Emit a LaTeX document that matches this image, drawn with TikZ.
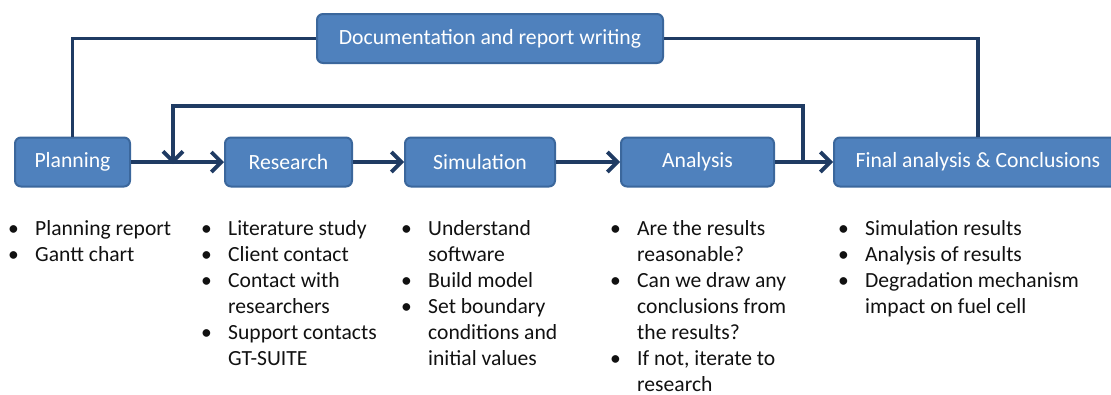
\documentclass[tikz,border=0pt]{standalone}
\usepackage{fontspec}
\setmainfont{Carlito}
\usetikzlibrary{arrows.meta}
\definecolor{boxfill}{HTML}{4F81BD}
\definecolor{boxedge}{HTML}{3B679C}
\definecolor{flow}{HTML}{1F3B63}
\definecolor{listtext}{HTML}{111111}
\begin{document}
\begin{tikzpicture}[x=1pt,y=-1pt,
  stage/.style={draw=boxedge, line width=2pt, fill=boxfill, rounded corners=6pt,
    minimum height=49pt, text=white, font=\fontsize{21.7}{26}\selectfont, inner sep=0pt},
  flowline/.style={draw=flow, line width=3.6pt},
  flowarrow/.style={flowline, -{Straight Barb[length=10pt,width=20pt,line width=3.8pt]}},
  notes/.style={anchor=base west, inner sep=0pt, text=listtext,
    font=\fontsize{21.6}{26}\selectfont}]
\useasboundingbox (0,0) rectangle (1111,394);
\clip (0,0) rectangle (1111,394);

% process stages
\node[stage, minimum width=115pt] (plan) at (72.5,162) {Planning};
\node[stage, minimum width=127pt] (res)  at (288.5,162) {Research};
\node[stage, minimum width=150pt] (sim)  at (480,162) {Simulation};
\node[stage, minimum width=153pt] (ana)  at (697.5,162) {Analysis};
\node[stage, minimum width=288pt] (fin)  at (978,162) {Final analysis \& Conclusions};
\node[stage, minimum width=346pt] (doc)  at (490,38.5) {Documentation and report writing};

% junctions of the iteration loop
\coordinate (loopin)  at (173,162);
\coordinate (loopout) at (803,162);

% documentation spans the whole project
\draw[flowline] (doc.west) -| (plan.north);
\draw[flowline] (doc.east) -| (fin.north);

% main flow
\draw[flowarrow] (plan.east) -- (res.west);
\draw[flowarrow] (res.east) -- (sim.west);
\draw[flowarrow] (sim.east) -- (ana.west);
\draw[flowarrow] (ana.east) -- (fin.west);

% iterate from analysis back to research
\draw[flowarrow] (loopout) -- (803,106) -| ([yshift=-2pt]loopin);

% task lists
\node[notes] (lplan) at (8,235) {\begin{tabular}[t]{@{}p{27pt}@{}l@{}}
\textbullet & Planning report\\
\textbullet & Gantt chart
\end{tabular}};
\node[notes] (lres) at (201,235) {\begin{tabular}[t]{@{}p{27pt}@{}l@{}}
\textbullet & Literature study\\
\textbullet & Client contact\\
\textbullet & Contact with\\
 & researchers\\
\textbullet & Support contacts\\
 & GT-SUITE
\end{tabular}};
\node[notes] (lsim) at (401,235) {\begin{tabular}[t]{@{}p{27pt}@{}l@{}}
\textbullet & Understand\\
 & software\\
\textbullet & Build model\\
\textbullet & Set boundary\\
 & conditions and\\
 & initial values
\end{tabular}};
\node[notes] (lana) at (610,235) {\begin{tabular}[t]{@{}p{27pt}@{}l@{}}
\textbullet & Are the results\\
 & reasonable?\\
\textbullet & Can we draw any\\
 & conclusions from\\
 & the results?\\
\textbullet & If not, iterate to\\
 & research
\end{tabular}};
\node[notes] (lfin) at (838,235) {\begin{tabular}[t]{@{}p{27pt}@{}l@{}}
\textbullet & Simulation results\\
\textbullet & Analysis of results\\
\textbullet & Degradation mechanism\\
 & impact on fuel cell
\end{tabular}};
\end{tikzpicture}
\end{document}
